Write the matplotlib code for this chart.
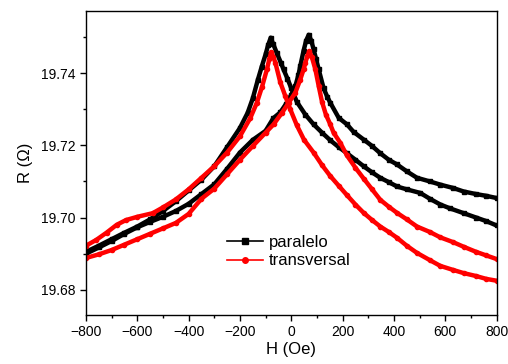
import matplotlib.pyplot as plt
from matplotlib.lines import Line2D
from matplotlib.ticker import MultipleLocator, FormatStrFormatter

plt.rcParams['font.family'] = ['Liberation Sans', 'DejaVu Sans']

# paralelo, sweep with peak at negative field
h_par_a = [-800, -750, -700, -650, -600, -550, -500, -450, -400, -350, -300, -250, -200, -170,
           -150, -130, -115, -100, -90, -80, -70, -56, -40, -30, -15, 0, 22, 55, 87, 120, 152,
           185, 217, 250, 282, 315, 347, 380, 412, 450, 503, 540, 581, 620, 672, 720, 760, 800]
r_par_a = [19.6905, 19.6922, 19.6940, 19.6958, 19.6975, 19.6995, 19.7018, 19.7045, 19.7075,
           19.7105, 19.7142, 19.7195, 19.7248, 19.7290, 19.7330, 19.7382, 19.7418, 19.7452,
           19.7478, 19.7498, 19.7480, 19.7455, 19.7428, 19.7410, 19.7385, 19.7358, 19.7320,
           19.7285, 19.7258, 19.7235, 19.7214, 19.7195, 19.7178, 19.7160, 19.7142, 19.7125,
           19.7110, 19.7098, 19.7086, 19.7078, 19.7068, 19.7052, 19.7036, 19.7025, 19.7012,
           19.7000, 19.6990, 19.6978]

# paralelo, sweep with peak at positive field
h_par_b = [-800, -750, -700, -650, -600, -550, -500, -450, -400, -350, -300, -250, -200, -150,
           -100, -70, -43, -20, 0, 16, 28, 35, 48, 58, 68, 78, 87, 97, 107, 126, 140, 152, 185,
           217, 243, 282, 315, 347, 380, 412, 450, 490, 540, 581, 630, 672, 720, 760, 800]
r_par_b = [19.6900, 19.6917, 19.6935, 19.6955, 19.6973, 19.6988, 19.7002, 19.7018, 19.7038,
           19.7065, 19.7092, 19.7135, 19.7180, 19.7215, 19.7240, 19.7275, 19.7291, 19.7315,
           19.7340, 19.7364, 19.7395, 19.7419, 19.7462, 19.7490, 19.7506, 19.7490, 19.7466,
           19.7438, 19.7410, 19.7358, 19.7335, 19.7318, 19.7276, 19.7258, 19.7237, 19.7216,
           19.7198, 19.7178, 19.7160, 19.7147, 19.7128, 19.7110, 19.7100, 19.7091, 19.7082,
           19.7072, 19.7065, 19.7060, 19.7054]

# transversal, sweep with peak at negative field
h_tra_a = [-800, -760, -720, -680, -644, -600, -540, -500, -450, -400, -350, -300, -250, -200,
           -160, -134, -114, -95, -85, -78, -70, -62, -43, -23, -4, 22, 50, 87, 120, 152, 185,
           217, 250, 282, 315, 347, 380, 412, 450, 490, 540, 581, 630, 672, 720, 760, 800]
r_tra_a = [19.6922, 19.6938, 19.6958, 19.6980, 19.6993, 19.7002, 19.7012, 19.7028, 19.7050,
           19.7078, 19.7110, 19.7142, 19.7180, 19.7225, 19.7275, 19.7318, 19.7362, 19.7410,
           19.7440, 19.7458, 19.7445, 19.7429, 19.7375, 19.7336, 19.7300, 19.7255, 19.7215,
           19.7180, 19.7145, 19.7115, 19.7088, 19.7062, 19.7036, 19.7013, 19.6993, 19.6975,
           19.6960, 19.6944, 19.6922, 19.6902, 19.6882, 19.6866, 19.6855, 19.6846, 19.6838,
           19.6830, 19.6825]

# transversal, sweep with peak at positive field
h_tra_b = [-800, -750, -700, -650, -600, -550, -500, -450, -400, -350, -300, -250, -200, -150,
           -100, -69, -36, -10, 16, 35, 48, 55, 63, 70, 80, 94, 107, 120, 135, 152, 165, 191,
           217, 250, 282, 315, 347, 380, 412, 450, 490, 540, 581, 630, 672, 720, 760, 800]
r_tra_b = [19.6888, 19.6898, 19.6910, 19.6925, 19.6940, 19.6955, 19.6970, 19.6985, 19.7010,
           19.7052, 19.7080, 19.7120, 19.7160, 19.7198, 19.7235, 19.7258, 19.7290, 19.7318,
           19.7346, 19.7382, 19.7410, 19.7429, 19.7448, 19.7460, 19.7445, 19.7410, 19.7364,
           19.7320, 19.7285, 19.7258, 19.7235, 19.7207, 19.7172, 19.7138, 19.7108, 19.7078,
           19.7049, 19.7030, 19.7013, 19.6995, 19.6975, 19.6960, 19.6945, 19.6932, 19.6919,
           19.6905, 19.6895, 19.6885]

fig = plt.figure(figsize=(5.08, 3.64), dpi=100)
ax = fig.add_axes([0.1693, 0.1346, 0.8081, 0.8352])

for h, r in [(h_par_a, r_par_a), (h_par_b, r_par_b)]:
    ax.plot(h, r, color='black', lw=3.2, marker='s', ms=2.6, mec='black', mfc='black',
            solid_joinstyle='round')
for h, r in [(h_tra_a, r_tra_a), (h_tra_b, r_tra_b)]:
    ax.plot(h, r, color='red', lw=3.2, marker='o', ms=3, mec='red', mfc='red',
            solid_joinstyle='round')

ax.set_xlim(-800, 800)
ax.set_ylim(19.673, 19.7572)
ax.xaxis.set_major_locator(MultipleLocator(200))
ax.xaxis.set_minor_locator(MultipleLocator(100))
ax.yaxis.set_major_locator(MultipleLocator(0.02))
ax.yaxis.set_minor_locator(MultipleLocator(0.01))
ax.yaxis.set_major_formatter(FormatStrFormatter('%.2f'))
ax.tick_params(which='major', direction='out', length=4, width=1, labelsize=10)
ax.tick_params(which='minor', direction='out', length=2.5, width=1)
for s in ax.spines.values():
    s.set_linewidth(1)

ax.set_xlabel('H (Oe)', fontsize=12, labelpad=2)
ax.set_ylabel('R (\u03a9)', fontsize=12, labelpad=6)

handles = [Line2D([], [], color='black', lw=1.2, marker='s', ms=4),
           Line2D([], [], color='red', lw=1.2, marker='o', ms=4)]
ax.legend(handles, ['paralelo', 'transversal'], loc='center left',
          bbox_to_anchor=(0.343, 0.208), frameon=False, fontsize=12,
          handlelength=2.2, handletextpad=0.3, labelspacing=0.2,
          borderpad=0, borderaxespad=0)

fig.savefig('out.png', dpi=100)
